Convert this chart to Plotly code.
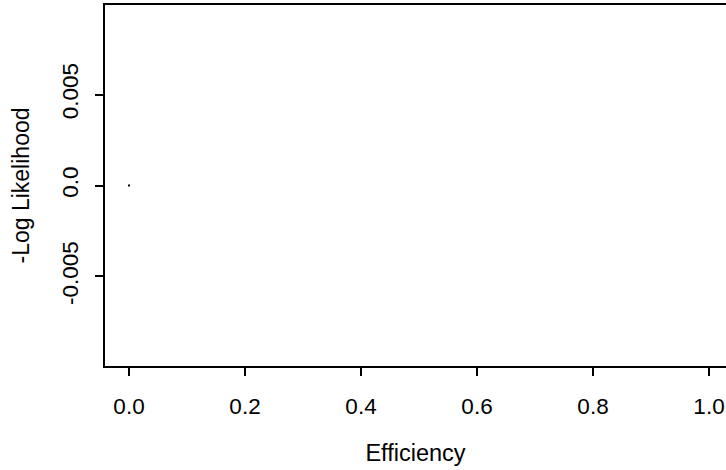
import plotly.graph_objects as go

efficiency = [0.0]
neg_log_likelihood = [0.0]

x_tickvals = [0.0, 0.2, 0.4, 0.6, 0.8, 1.0]
x_ticktext = ["0.0", "0.2", "0.4", "0.6", "0.8", "1.0"]
y_tickvals = [-0.005, 0.0, 0.005]
y_ticktext = ["-0.005", "0.0", "0.005"]

FONT = "Liberation Sans, Arial, Helvetica, sans-serif"
FS = 22.5

fig = go.Figure()
fig.add_trace(go.Scatter(
    x=efficiency, y=neg_log_likelihood, mode="markers",
    marker=dict(symbol="square", size=2, color="black", line=dict(width=0)),
    showlegend=False, hoverinfo="skip",
))

fig.update_layout(
    width=726, height=470,
    margin=dict(l=105, r=0, t=5, b=104),
    paper_bgcolor="white", plot_bgcolor="white",
    font=dict(family=FONT, size=FS, color="black"),
    xaxis=dict(
        range=[-0.0414, 1.0293], tickvals=x_tickvals, ticktext=x_ticktext,
        showgrid=False, zeroline=False, showline=True, linecolor="black",
        linewidth=1.5, mirror=True, ticks="outside", ticklen=8, tickwidth=1.5,
        tickcolor="black", ticklabelstandoff=11,
        title=dict(text="Efficiency", font=dict(size=23.5), standoff=27),
    ),
    yaxis=dict(
        range=[-0.00992, 0.00992], tickvals=y_tickvals, ticktext=y_ticktext,
        showgrid=False, zeroline=False, showline=True, linecolor="black",
        linewidth=1.5, mirror=False, ticks="outside", ticklen=8, tickwidth=1.5,
        tickcolor="black", tickangle=-90, ticklabelstandoff=8,
        title=dict(text="-Log Likelihood", font=dict(size=23), standoff=22),
    ),
)

fig.write_html("out.html", config={"displayModeBar": False},
               post_script="document.body.style.margin='0';")
